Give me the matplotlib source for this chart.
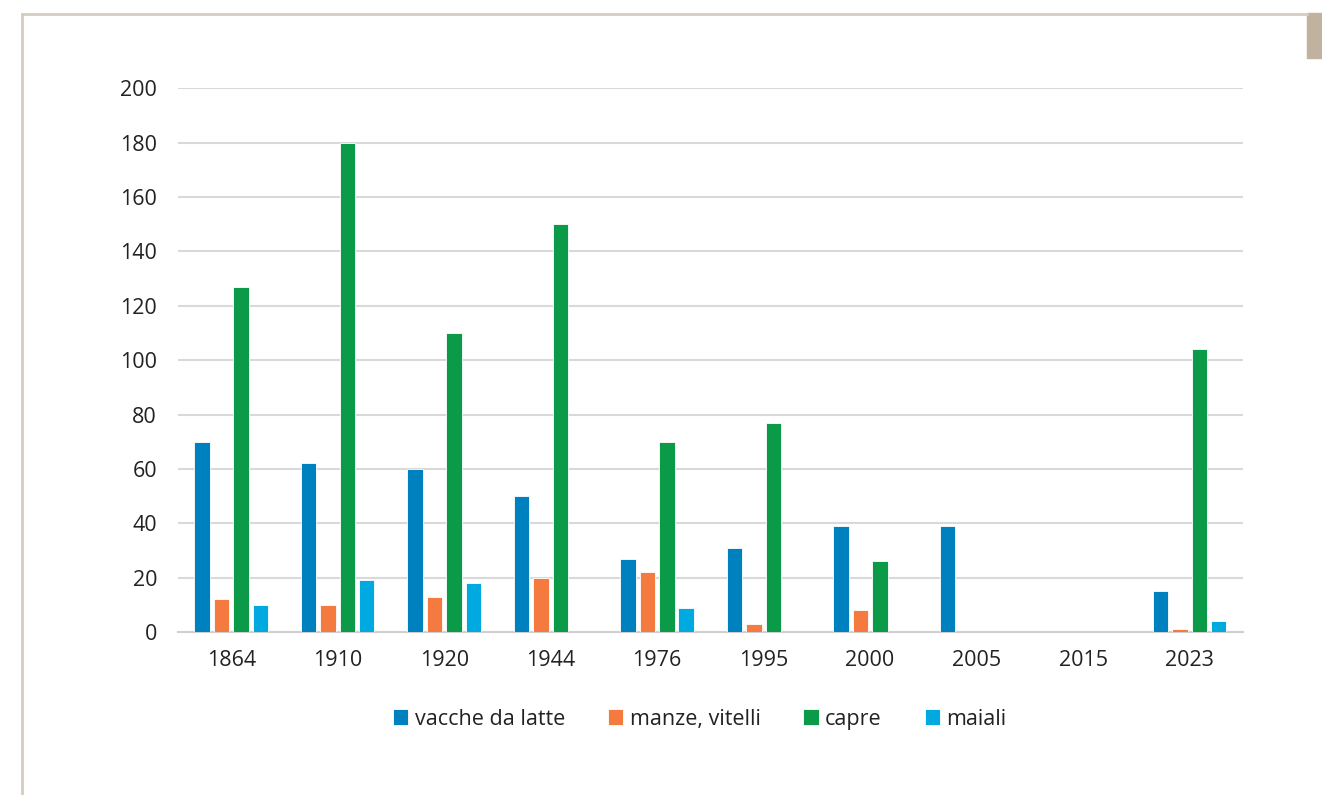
import numpy as np
import matplotlib.pyplot as plt
from matplotlib.lines import Line2D
from matplotlib.patches import Rectangle

plt.rcParams['font.family'] = ['Open Sans', 'DejaVu Sans']

years = ['1864', '1910', '1920', '1944', '1976', '1995', '2000', '2005', '2015', '2023']
vacche = [70, 62, 60, 50, 27, 31, 39, 39, 0, 15]
manze = [12, 10, 13, 20, 22, 3, 8, 0, 0, 1]
capre = [127, 180, 110, 150, 70, 77, 26, 0, 0, 104]
maiali = [10, 19, 18, 0, 9, 0, 0, 0, 0, 4]

series = [vacche, manze, capre, maiali]
names = ['vacche da latte', 'manze, vitelli', 'capre', 'maiali']
colors = ['#0081bf', '#f47a40', '#0a9a48', '#00a9df']

fig = plt.figure(figsize=(13.22, 7.95), dpi=100)
ax = fig.add_axes([0.1346, 0.205, 0.8055, 0.684])

x = np.arange(len(years))
w = 0.145
step = 0.182
for i, (vals, nm, c) in enumerate(zip(series, names, colors)):
    ax.bar(x + (i - 1.5) * step, vals, width=w, color=c, label=nm,
           edgecolor='white', linewidth=0.6, zorder=3)

ax.set_xlim(-0.5, len(years) - 0.5)
ax.set_ylim(0, 200)
ax.set_yticks(range(0, 201, 20))
ax.set_xticks(x)
ax.set_xticklabels(years)
ax.tick_params(length=0, labelsize=15.5, colors='#222222')
ax.tick_params(axis='x', pad=13)
ax.tick_params(axis='y', pad=15)
ax.grid(axis='y', color='#d9d9d9', linewidth=1.5, zorder=0)
for s in ['top', 'right', 'left']:
    ax.spines[s].set_visible(False)
ax.spines['bottom'].set_color('#d0d0d0')
ax.spines['bottom'].set_linewidth(1.5)

ax.legend(loc='center', bbox_to_anchor=(0.49, -0.16), ncol=4, frameon=False,
          fontsize=15.5, handlelength=0.7, handleheight=0.7, handletextpad=0.3,
          columnspacing=2.0, labelcolor='#222222')

# page frame
fig.add_artist(Line2D([0.0166, 0.0166], [0.0, 0.982], color='#d5ccc0', lw=2))
fig.add_artist(Line2D([0.0166, 0.9887], [0.982, 0.982], color='#d5ccc0', lw=2))
fig.add_artist(Rectangle((0.9887, 1 - 58 / 795), 0.02, 45 / 795, color='#c0b29e',
                         transform=fig.transFigure))

plt.savefig('out.png', dpi=100)
